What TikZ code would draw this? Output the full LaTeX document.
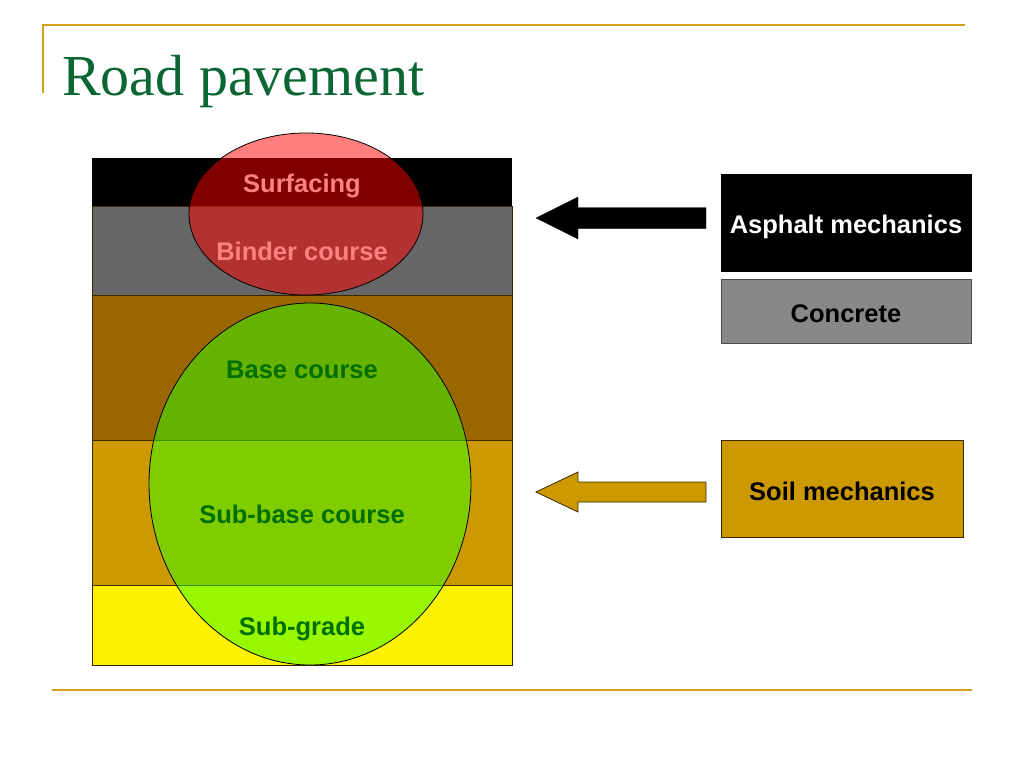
\documentclass[tikz,border=0pt]{standalone}
\usepackage{fontspec}
\setmainfont{Liberation Serif}
\newfontfamily\arialfont{Liberation Sans}
\definecolor{gold}{RGB}{212,160,23}
\definecolor{titlegreen}{RGB}{10,102,51}
\definecolor{basebrown}{RGB}{153,102,0}
\definecolor{subbase}{RGB}{204,153,0}
\definecolor{layergray}{RGB}{102,102,102}
\definecolor{concretegray}{RGB}{136,136,136}
\definecolor{labelpink}{RGB}{255,128,128}
\definecolor{labelgreen}{RGB}{0,110,0}
\definecolor{ellgreen}{RGB}{51,255,0}
\definecolor{edge}{RGB}{60,40,0}
\tikzset{
  layer/.style={draw=edge, line width=0.8pt},
  lbl/.style={font=\arialfont\bfseries\fontsize{25.5}{28}\selectfont, inner sep=0pt, anchor=base},
  sidebox/.style={draw=edge, line width=0.8pt, minimum width=250pt, inner sep=0pt},
  goldrule/.style={draw=gold, line width=2pt},
}
\begin{document}
\begin{tikzpicture}[x=1pt,y=-1pt]
\useasboundingbox (0,0) rectangle (1024,768);
% rules
\draw[goldrule] (42,25) -- (965,25);
\draw[goldrule] (43,25) -- (43,93);
\draw[goldrule] (52,690) -- (972,690);
% title
\node[anchor=base west, inner sep=0pt, text=titlegreen, font=\fontsize{58}{60}\selectfont] (title) at (62,95) {Road pavement};
% layers
\fill[black] (92,158) rectangle (512,206);
\filldraw[layer, fill=layergray] (92,206) rectangle (512,295);
\filldraw[layer, fill=basebrown] (92,295) rectangle (512,440);
\filldraw[layer, fill=subbase] (92,440) rectangle (512,585);
\filldraw[layer, fill=yellow] (92,585) rectangle (512,665);
% ellipses
\filldraw[draw=black, line width=0.8pt, fill=red, fill opacity=0.5] (306,214) ellipse [x radius=117, y radius=81];
\filldraw[draw=black, line width=0.8pt, fill=ellgreen, fill opacity=0.5] (310,484) ellipse [x radius=161, y radius=181];
% layer labels
\node[lbl, text=labelpink] (surf) at (302,192) {Surfacing};
\node[lbl, text=labelpink] (binder) at (302,260) {Binder course};
\node[lbl, text=labelgreen] (base) at (302,378) {Base course};
\node[lbl, text=labelgreen] (subb) at (302,523) {Sub-base course};
\node[lbl, text=labelgreen] (subg) at (302,635) {Sub-grade};
% right boxes
\node[sidebox, fill=black, draw=black, minimum height=97pt] (asph) at (846,222.5) {};
\node[sidebox, fill=concretegray, draw=black!70, minimum height=64pt] (conc) at (846,311) {};
\node[sidebox, fill=subbase, minimum width=242pt, minimum height=97pt] (soil) at (842,488.5) {};
\node[lbl, text=white] (asphT) at (846,233) {Asphalt mechanics};
\node[lbl] (concT) at (846,322) {Concrete};
\node[lbl] (soilT) at (842,500) {Soil mechanics};
% arrows
\coordinate (a1) at (706,218);
\coordinate (a2) at (706,492);
\filldraw[black] (a1) ++(0,-10.5) -- ++(-128,0) -- ++(0,-10.5) -- ++(-42,21) -- ++(42,21) -- ++(0,-10.5) -- ++(128,0) -- cycle;
\filldraw[draw=edge, line width=0.8pt, fill=subbase] (a2) ++(0,-10) -- ++(-128,0) -- ++(0,-10) -- ++(-42,20) -- ++(42,20) -- ++(0,-10) -- ++(128,0) -- cycle;
\end{tikzpicture}
\end{document}
